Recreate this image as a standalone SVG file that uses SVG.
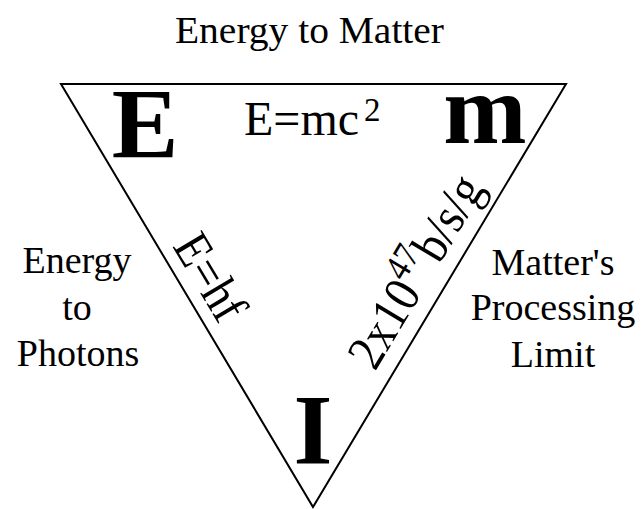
<svg xmlns="http://www.w3.org/2000/svg" width="641" height="509" viewBox="0 0 641 509">
<style>
text{font-family:"Liberation Serif","DejaVu Serif",serif;fill:#000}
.lbl{font-size:38px;text-anchor:middle}
.big{font-size:100px;font-weight:bold;text-anchor:middle}
.eq{font-size:46px}
</style>
<rect width="641" height="509" fill="#fff"/>
<g id="connectors">
<polygon points="61,84 566,84 313,507" fill="none" stroke="#000" stroke-width="2" stroke-linejoin="miter"/>
</g>
<g id="title"><text class="lbl" x="309.5" y="43" font-size="39" textLength="269" lengthAdjust="spacingAndGlyphs">Energy to Matter</text></g>
<g id="node-E"><text class="big" x="145" y="157">E</text></g>
<g id="node-m"><text class="big" x="485" y="143">m</text></g>
<g id="node-I"><text class="big" x="313" y="463">I</text></g>
<g id="emc2"><text x="244" y="135" font-size="48">E=mc<tspan font-size="33" dx="5" dy="-14">2</tspan></text></g>
<g id="ehf"><text class="eq" transform="translate(172,246) rotate(59.2) scale(1,1.12)">E=hf</text></g>
<g id="limit"><text class="eq" transform="translate(375,372) rotate(-59.1) scale(1,1.12)">2x10<tspan font-size="33" dy="-19">47</tspan><tspan dy="19">b/s/g</tspan></text></g>
<g id="left-label"><text class="lbl" x="77" y="273">Energy</text><text class="lbl" x="77" y="320">to</text><text class="lbl" x="78" y="366">Photons</text></g>
<g id="right-label"><text class="lbl" x="553" y="275">Matter's</text><text class="lbl" x="553" y="320">Processing</text><text class="lbl" x="553" y="367">Limit</text></g>
</svg>
